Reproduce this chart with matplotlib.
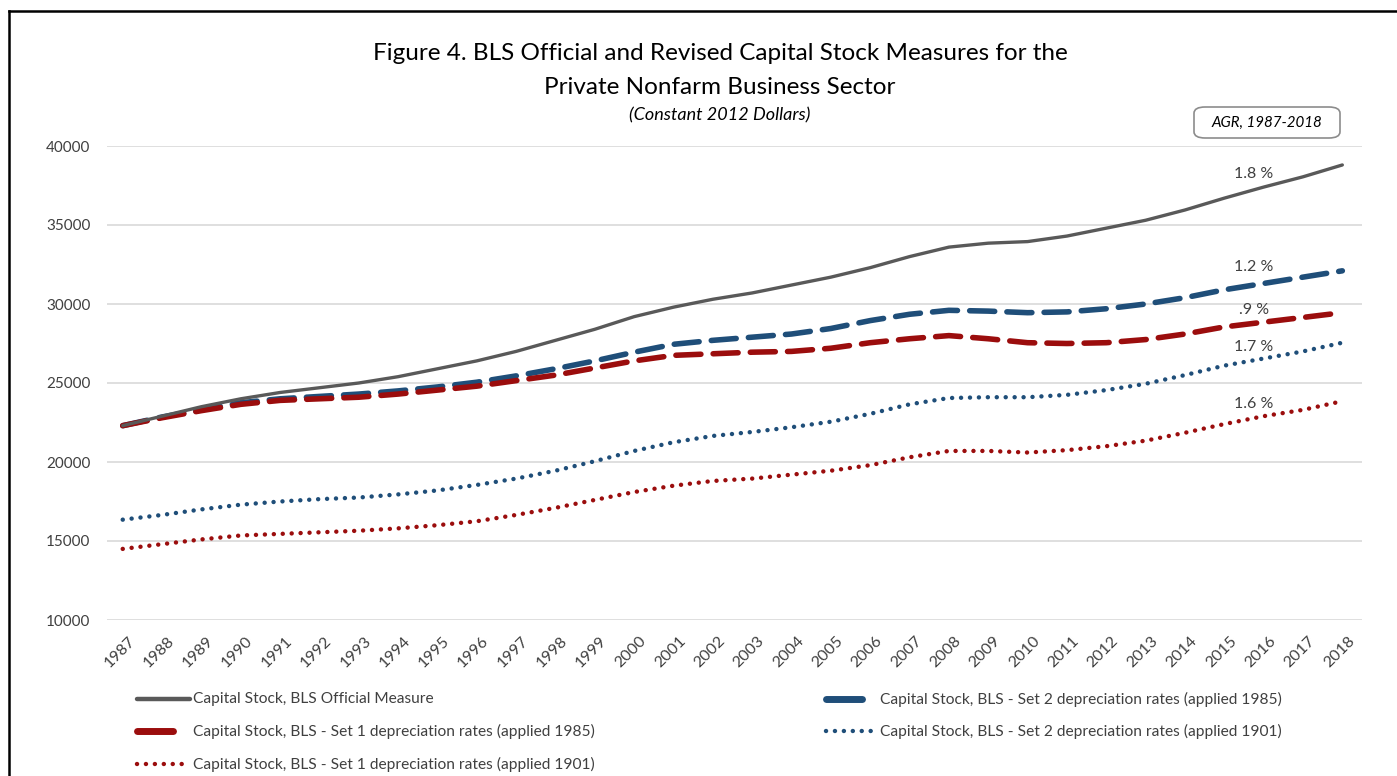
import matplotlib
matplotlib.use("Agg")
import matplotlib.pyplot as plt
from matplotlib.patches import FancyBboxPatch
from matplotlib.lines import Line2D
import matplotlib.transforms as mtransforms

plt.rcParams['font.family'] = ['Lato', 'DejaVu Sans']

years = list(range(1987, 2019))

official = [22300, 22900, 23500, 24000, 24400, 24700, 25000, 25400, 25900, 26400,
            27000, 27700, 28400, 29200, 29800, 30300, 30700, 31200, 31700, 32300,
            33000, 33600, 33850, 33950, 34300, 34800, 35300, 35950, 36700, 37400,
            38050, 38800]
set2_1985 = [22300, 22850, 23300, 23750, 24000, 24150, 24300, 24500, 24750, 25050,
             25450, 25900, 26400, 26950, 27450, 27700, 27900, 28100, 28450, 28950,
             29350, 29600, 29550, 29450, 29500, 29700, 30000, 30400, 30900, 31300,
             31700, 32100]
set1_1985 = [22300, 22800, 23250, 23650, 23900, 24000, 24100, 24300, 24550, 24800,
             25150, 25500, 25950, 26400, 26750, 26850, 26950, 27000, 27200, 27550,
             27800, 28000, 27800, 27550, 27500, 27550, 27750, 28100, 28550, 28850,
             29150, 29450]
set2_1901 = [16350, 16650, 17000, 17300, 17500, 17650, 17750, 17950, 18200, 18550,
             18950, 19450, 20050, 20700, 21250, 21650, 21900, 22200, 22550, 23050,
             23650, 24050, 24100, 24100, 24250, 24550, 24950, 25500, 26100, 26550,
             27000, 27550]
set1_1901 = [14500, 14800, 15100, 15350, 15450, 15550, 15650, 15800, 16000, 16250,
             16650, 17100, 17600, 18100, 18500, 18800, 18950, 19200, 19450, 19800,
             20300, 20700, 20700, 20600, 20750, 21000, 21350, 21850, 22400, 22900,
             23300, 23850]

agr_labels = ["1.8 %", "1.2 %", ".9 %", "1.7 %", "1.6 %"]
agr_y = [38200, 32350, 29650, 27250, 23650]
series_names = ["Capital Stock, BLS Official Measure",
                "Capital Stock, BLS - Set 2 depreciation rates (applied 1985)",
                "Capital Stock, BLS - Set 1 depreciation rates (applied 1985)",
                "Capital Stock, BLS - Set 2 depreciation rates (applied 1901)",
                "Capital Stock, BLS - Set 1 depreciation rates (applied 1901)"]
yticks = [10000, 15000, 20000, 25000, 30000, 35000, 40000]

W, H = 1397, 776
fig = plt.figure(figsize=(W / 100, H / 100), dpi=100)
ax = fig.add_axes([107 / W, 1 - 620 / H, (1362 - 107) / W, (620 - 146) / H])

GRAY = '#595959'
BLUE = '#1F4E79'
RED = '#9B0D0D'
DASH = (4.5, 2.2)
DOT = (0.01, 2.0)

ax.plot(years, official, color=GRAY, lw=2.4, solid_capstyle='round', zorder=5)
ax.plot(years, set2_1985, color=BLUE, lw=4, dashes=DASH, dash_capstyle='round', zorder=4)
ax.plot(years, set1_1985, color=RED, lw=4, dashes=DASH, dash_capstyle='round', zorder=4)
ax.plot(years, set2_1901, color=BLUE, lw=3.2, dashes=DOT, dash_capstyle='round', zorder=3)
ax.plot(years, set1_1901, color=RED, lw=3.2, dashes=DOT, dash_capstyle='round', zorder=3)

ax.set_xlim(1986.6, 2018.5)
ax.set_ylim(10000, 40000)
ax.set_yticks(yticks)
ax.set_yticklabels([str(v) for v in yticks], fontsize=11, color='#404040')
ax.set_xticks(years)
ax.set_xticklabels([str(y) for y in years], rotation=45, ha='right', va='top',
                   rotation_mode='anchor', fontsize=11.5, color='#404040')
ax.tick_params(axis='both', length=0)
ax.tick_params(axis='y', pad=12)
ax.tick_params(axis='x', pad=10)
offset = mtransforms.ScaledTranslation(5 / 100, 0, fig.dpi_scale_trans)
for lab in ax.get_xticklabels():
    lab.set_transform(lab.get_transform() + offset)
ax.grid(axis='y', color='#D9D9D9', lw=1.2)
ax.set_axisbelow(True)
for s in ax.spines.values():
    s.set_visible(False)

for lbl, yv in zip(agr_labels, agr_y):
    ax.text(2015.75, yv, lbl, fontsize=11.5, color='#404040', ha='center', va='center')

# Titles
fig.text(720 / W, 1 - 53 / H, "Figure 4. BLS Official and Revised Capital Stock Measures for the",
         ha='center', va='center', fontsize=17.5, color='#000000')
fig.text(720 / W, 1 - 87 / H, "Private Nonfarm Business Sector",
         ha='center', va='center', fontsize=17.5, color='#000000')
fig.text(720 / W, 1 - 115 / H, "(Constant 2012 Dollars)",
         ha='center', va='center', fontsize=13, style='italic', color='#000000')

# AGR box
box = FancyBboxPatch((1194 / W, 1 - 138 / H), 146 / W, 31 / H,
                     boxstyle="round,pad=0,rounding_size=0.008",
                     transform=fig.transFigure, facecolor='white',
                     edgecolor='#8C8C8C', lw=1.2)
fig.patches.append(box)
fig.text(1267 / W, 1 - 123 / H, "AGR, 1987-2018", ha='center', va='center',
         fontsize=10.9, style='italic', color='#000000')

# Border (left and top)
fig.add_artist(Line2D([9 / W, 9 / W], [0, 1 - 11 / H], transform=fig.transFigure,
                      color='black', lw=1.8))
fig.add_artist(Line2D([9 / W, 1], [1 - 11 / H, 1 - 11 / H], transform=fig.transFigure,
                      color='black', lw=1.8))

# Legend (manual, Excel-like layout)
leg_styles = [
    dict(color=GRAY, lw=3.2, x0=137, x1=190, dashes=None),
    dict(color=BLUE, lw=5, x0=826, x1=862, dashes=None),
    dict(color=RED, lw=5, x0=137, x1=173, dashes=None),
    dict(color=BLUE, lw=3.2, x0=826, x1=875, dashes=DOT),
    dict(color=RED, lw=3.2, x0=137, x1=187, dashes=DOT),
]
leg_pos = [(0, 193), (0, 880), (1, 193), (1, 880), (2, 193)]
rows_y = [699, 731, 764]
for idx, st in enumerate(leg_styles):
    row, tx = leg_pos[idx]
    y = 1 - rows_y[row] / H
    ln = Line2D([st['x0'] / W, st['x1'] / W], [y, y], transform=fig.transFigure,
                color=st['color'], lw=st['lw'], solid_capstyle='round',
                dash_capstyle='round')
    if st['dashes'] is not None:
        ln.set_dashes(st['dashes'])
    fig.add_artist(ln)
    fig.text(tx / W, y, series_names[idx], ha='left', va='center', fontsize=11.2,
             color='#404040')

fig.savefig("out.png", dpi=100, facecolor='white')
